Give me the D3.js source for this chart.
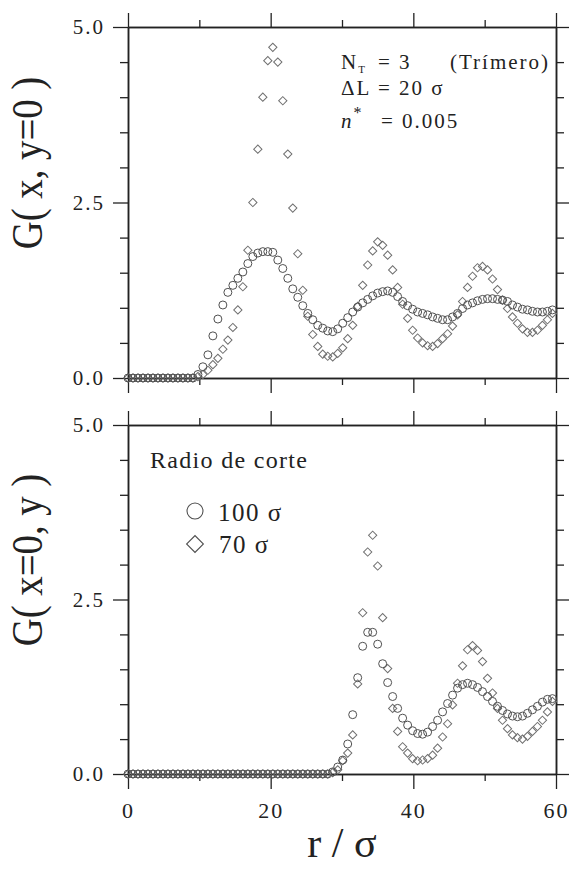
<!DOCTYPE html>
<html><head><meta charset="utf-8">
<script src="https://cdn.jsdelivr.net/npm/d3@7"></script>
<style>
html,body{margin:0;padding:0;background:#fff;}
svg{display:block;}
text{font-family:"Liberation Serif","DejaVu Serif",serif;fill:#222;}
</style></head>
<body>
<svg id="chart" width="569" height="870"></svg>
<script>
// ---- data ----
const r = [0,0.7,1.4,2.1,2.8,3.5,4.2,4.9,5.6,6.3,7,7.7,8.4,9.1,9.8,10.5,11.2,11.9,12.6,13.3,
  14,14.7,15.4,16.1,16.8,17.5,18.2,18.9,19.6,20.3,21,21.7,22.4,23.1,23.8,24.5,25.2,25.9,26.6,27.3,
  28,28.7,29.4,30.1,30.8,31.5,32.2,32.9,33.6,34.3,35,35.7,36.4,37.1,37.8,38.5,39.2,39.9,40.6,41.3,
  42,42.7,43.4,44.1,44.8,45.5,46.2,46.9,47.6,48.3,49,49.7,50.4,51.1,51.8,52.5,53.2,53.9,54.6,55.3,
  56,56.7,57.4,58.1,58.8,59.5];

// G(x, y=0), cut-off radius 100 sigma (circles)
const gx100 = [0,0,0,0,0,0,0,0,0,0,0,0,0,0,0.05,0.16,0.33,0.60,0.84,1.04,
  1.22,1.32,1.42,1.51,1.63,1.73,1.78,1.80,1.80,1.79,1.68,1.56,1.42,1.27,1.15,1.03,0.92,0.83,0.75,0.71,
  0.67,0.66,0.70,0.78,0.86,0.94,1.01,1.07,1.12,1.17,1.21,1.23,1.24,1.22,1.16,1.09,1.03,0.98,0.94,0.92,
  0.90,0.87,0.85,0.83,0.83,0.87,0.92,0.99,1.04,1.07,1.10,1.12,1.13,1.13,1.12,1.11,1.09,1.04,1.01,0.98,
  0.97,0.95,0.94,0.94,0.95,0.97];
// G(x, y=0), cut-off radius 70 sigma (diamonds)
const gx70 = [0,0,0,0,0,0,0,0,0,0,0,0,0,0,0.02,0.05,0.11,0.19,0.28,0.41,
  0.54,0.72,0.97,1.30,1.82,2.50,3.26,4.00,4.52,4.71,4.50,3.95,3.19,2.42,1.77,1.25,0.88,0.62,0.45,0.34,
  0.31,0.30,0.35,0.43,0.56,0.75,1.02,1.32,1.61,1.81,1.94,1.89,1.75,1.54,1.29,1.05,0.85,0.68,0.57,0.50,
  0.46,0.45,0.49,0.56,0.63,0.74,0.90,1.09,1.29,1.45,1.57,1.59,1.54,1.41,1.26,1.11,0.99,0.87,0.78,0.70,
  0.65,0.65,0.68,0.75,0.83,0.92];
// G(x=0, y), cut-off radius 100 sigma (circles)
const gy100 = [0,0,0,0,0,0,0,0,0,0,0,0,0,0,0,0,0,0,0,0,
  0,0,0,0,0,0,0,0,0,0,0,0,0,0,0,0,0,0,0,0,
  0,0.03,0.10,0.20,0.43,0.85,1.38,1.83,2.03,2.03,1.86,1.58,1.31,1.11,0.94,0.80,0.70,0.62,0.58,0.57,
  0.60,0.68,0.77,0.89,1.01,1.13,1.23,1.28,1.30,1.28,1.24,1.18,1.11,1.04,0.97,0.91,0.86,0.83,0.82,0.83,
  0.87,0.92,0.97,1.03,1.07,1.08];
// G(x=0, y), cut-off radius 70 sigma (diamonds)
const gy70 = [0,0,0,0,0,0,0,0,0,0,0,0,0,0,0,0,0,0,0,0,
  0,0,0,0,0,0,0,0,0,0,0,0,0,0,0,0,0,0,0,0,
  0,0.02,0.06,0.19,0.30,0.56,1.29,2.31,3.18,3.42,2.98,2.24,1.51,0.94,0.61,0.39,0.30,0.22,0.19,0.20,
  0.22,0.27,0.37,0.53,0.72,0.99,1.30,1.55,1.78,1.84,1.77,1.61,1.37,1.16,0.94,0.77,0.65,0.56,0.52,0.50,
  0.54,0.61,0.68,0.77,0.89,1.04];

const xMajorTicks = [0,20,40,60];
const xMinorTicks = [10,30,50];
const yMajorTicks = [0,2.5,5];
const yMinorTicks = [0.5,1,1.5,2,3,3.5,4,4.5];
const legendTitle = "Radio de corte";
const legendLabels = ["100 σ","70 σ"];

// ---- layout ----
const svg = d3.select("#chart");
const X0 = 128, X1 = 556;
const x = d3.scaleLinear().domain([0,60]).range([X0,X1]);
const panels = [
  {y: d3.scaleLinear().domain([0,5]).range([378,27]), a: gx100, b: gx70, title:"G( x, y=0 )", tc:163},
  {y: d3.scaleLinear().domain([0,5]).range([774,425]), a: gy100, b: gy70, title:"G( x=0, y )", tc:560}
];

const axisColor = "#222";
function styleAxis(g){
  g.select(".domain").attr("stroke",axisColor).attr("stroke-width",1.5);
  g.selectAll(".tick line").attr("stroke",axisColor).attr("stroke-width",1.3);
}

const circleColor = "#505050", diamondColor = "#707070";
const diamond = d3.symbol(d3.symbolSquare, 34);

panels.forEach((p,pi) => {
  const top = p.y(5), bot = p.y(0);
  // bottom axis
  const gb = svg.append("g").attr("transform",`translate(0,${bot})`);
  gb.call(d3.axisBottom(x).tickValues(xMajorTicks).tickSize(15).tickSizeOuter(0).tickFormat(pi===1? d3.format("d") : ""));
  gb.append("g").call(d3.axisBottom(x).tickValues(xMinorTicks).tickSize(7).tickSizeOuter(0).tickFormat(""));
  gb.selectAll("g").each(function(){ styleAxis(d3.select(this)); });
  styleAxis(gb);
  gb.selectAll(".tick text").attr("dy","1.2em").attr("font-size",22).attr("letter-spacing","2px")
    .attr("font-family","Liberation Serif").attr("fill","#222");
  // top axis
  const gt = svg.append("g").attr("transform",`translate(0,${top})`);
  gt.call(d3.axisTop(x).tickValues(xMajorTicks).tickSize(14).tickSizeOuter(0).tickFormat(""));
  gt.append("g").call(d3.axisTop(x).tickValues(xMinorTicks).tickSize(7).tickSizeOuter(0).tickFormat(""));
  gt.selectAll("g").each(function(){ styleAxis(d3.select(this)); });
  styleAxis(gt);
  // left axis
  const gl = svg.append("g").attr("transform",`translate(${X0},0)`);
  gl.call(d3.axisLeft(p.y).tickValues(yMajorTicks).tickSize(15).tickSizeOuter(0).tickFormat(d3.format(".1f")));
  gl.append("g").call(d3.axisLeft(p.y).tickValues(yMinorTicks).tickSize(8).tickSizeOuter(0).tickFormat(""));
  gl.selectAll("g").each(function(){ styleAxis(d3.select(this)); });
  styleAxis(gl);
  gl.selectAll(".tick text").attr("x",-23).attr("font-size",21).attr("letter-spacing","2px")
    .attr("font-family","Liberation Serif").attr("fill","#222");
  // right axis
  const gr = svg.append("g").attr("transform",`translate(${X1},0)`);
  gr.call(d3.axisRight(p.y).tickValues(yMajorTicks).tickSize(15).tickSizeOuter(0).tickFormat(""));
  gr.append("g").call(d3.axisRight(p.y).tickValues(yMinorTicks).tickSize(8).tickSizeOuter(0).tickFormat(""));
  gr.selectAll("g").each(function(){ styleAxis(d3.select(this)); });
  styleAxis(gr);

  // y title
  svg.append("text").attr("transform",`translate(42,${p.tc}) rotate(-90) scale(0.88,1)`)
    .attr("text-anchor","middle").attr("font-size",44).attr("fill","#2a2a2a").text(p.title);

  // data
  const pts = r.map((rv,i)=>({r:rv, a:p.a[i], b:p.b[i]}));
  svg.append("g").selectAll("path").data(pts).join("path")
    .attr("d", diamond)
    .attr("transform", d=>`translate(${x(d.r)},${p.y(d.b)}) rotate(45)`)
    .attr("fill","none").attr("stroke",diamondColor).attr("stroke-width",1);
  svg.append("g").selectAll("circle").data(pts).join("circle")
    .attr("cx", d=>x(d.r)).attr("cy", d=>p.y(d.a)).attr("r",4)
    .attr("fill","none").attr("stroke",circleColor).attr("stroke-width",1);
});

// x title
svg.append("text").attr("x",(X0+X1)/2).attr("y",857).attr("text-anchor","middle")
  .attr("font-size",42).attr("fill","#2a2a2a").text("r / σ");

// annotations (top panel)
const ann = svg.append("g").attr("font-size",21).attr("letter-spacing","2px").attr("fill","#222");
const t1 = ann.append("text").attr("x",341).attr("y",69);
t1.append("tspan").text("N");
t1.append("tspan").attr("font-size",11).attr("dy",4).text("T");
t1.append("tspan").attr("dy",-4).attr("x",378).text("= 3");
t1.append("tspan").attr("x",450).text("(Trímero)");
const t2 = ann.append("text").attr("x",341).attr("y",95);
t2.append("tspan").text("ΔL");
t2.append("tspan").attr("x",378).text("= 20 σ");
const t3 = ann.append("text").attr("x",341).attr("y",128);
t3.append("tspan").attr("font-style","italic").text("n");
t3.append("tspan").attr("font-size",16).attr("dy",-10).text("*");
t3.append("tspan").attr("dy",10).attr("x",381).text("= 0.005");

// legend (bottom panel)
const lg = svg.append("g").attr("fill","#222");
lg.append("text").attr("x",150).attr("y",468).attr("font-size",24).attr("letter-spacing","1.3px").text(legendTitle);
lg.append("circle").attr("cx",195).attr("cy",511).attr("r",8)
  .attr("fill","none").attr("stroke",circleColor).attr("stroke-width",1.1);
lg.append("path").attr("d", d3.symbol(d3.symbolSquare, 140)())
  .attr("transform","translate(195,544) rotate(45)")
  .attr("fill","none").attr("stroke",circleColor).attr("stroke-width",1.1);
lg.append("text").attr("x",218).attr("y",521).attr("font-size",25).attr("letter-spacing","1.5px").text(legendLabels[0]);
lg.append("text").attr("x",219).attr("y",553).attr("font-size",25).attr("letter-spacing","1.5px").text(legendLabels[1]);
</script>
</body></html>
